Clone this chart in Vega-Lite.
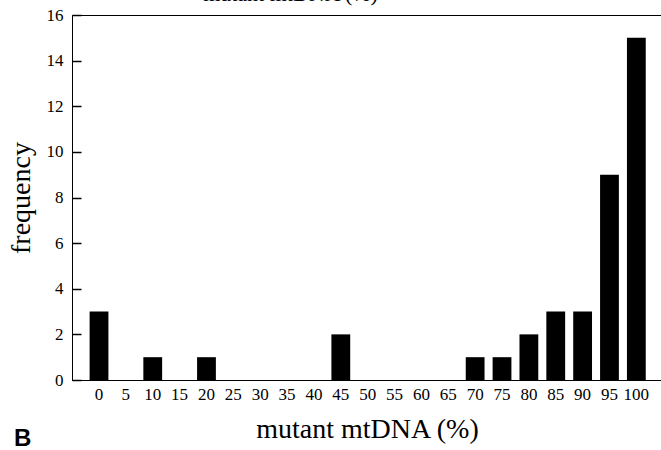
{
  "$schema": "https://vega.github.io/schema/vega-lite/v6.json",
  "autosize": {"type": "none"},
  "width": 590,
  "height": 365,
  "padding": {"left": 72, "top": 15, "right": 0, "bottom": 70},
  "background": "white",
  "title": {
    "text": "B",
    "orient": "bottom",
    "anchor": "start",
    "frame": "group",
    "font": "Liberation Sans",
    "fontWeight": "bold",
    "fontSize": 24,
    "color": "black",
    "dx": -58,
    "dy": -16,
    "offset": 0
  },
  "config": {
    "view": {"stroke": "black", "strokeWidth": 1},
    "axis": {
      "labelFont": "Liberation Serif",
      "titleFont": "Liberation Serif",
      "labelColor": "black",
      "titleColor": "black",
      "domainColor": "black",
      "tickColor": "black",
      "grid": false,
      "titleFontWeight": "normal"
    }
  },
  "data": {
    "values": [
      {"pct": "0", "frequency": 3},
      {"pct": "10", "frequency": 1},
      {"pct": "20", "frequency": 1},
      {"pct": "45", "frequency": 2},
      {"pct": "70", "frequency": 1},
      {"pct": "75", "frequency": 1},
      {"pct": "80", "frequency": 2},
      {"pct": "85", "frequency": 3},
      {"pct": "90", "frequency": 3},
      {"pct": "95", "frequency": 9},
      {"pct": "100", "frequency": 15}
    ]
  },
  "layer": [
    {
      "mark": {"type": "bar", "color": "black"},
      "encoding": {
        "x": {
          "field": "pct",
          "type": "ordinal",
          "scale": {
            "domain": ["0","5","10","15","20","25","30","35","40","45","50","55","60","65","70","75","80","85","90","95","100"],
            "paddingInner": 0.3,
            "paddingOuter": 0.63,
            "align": 0.52
          },
          "axis": {
            "title": "mutant mtDNA (%)",
            "titleFontSize": 28,
            "titlePadding": 13,
            "labelFontSize": 17,
            "labelAngle": 0,
            "ticks": false,
            "labelPadding": 6
          }
        },
        "y": {
          "field": "frequency",
          "type": "quantitative",
          "scale": {"domain": [0, 16], "nice": false},
          "axis": {
            "title": "frequency",
            "titleFontSize": 28,
            "titlePadding": 11,
            "labelFontSize": 17,
            "values": [0,2,4,6,8,10,12,14,16],
            "ticks": true,
            "tickSize": -9,
            "tickWidth": 1.5,
            "tickColor": "black",
            "labelPadding": 18,
            "zindex": 1
          }
        }
      }
    },
    {
      "mark": {"type": "bar", "opacity": 0},
      "encoding": {
        "x": {
          "field": "pct",
          "type": "ordinal",
          "axis": {
            "orient": "top",
            "title": "mutant mtDNA (%)",
            "titleFontSize": 22,
            "titlePadding": 10,
            "titleX": 218,
            "labels": false,
            "ticks": false,
            "domain": false
          }
        },
        "y": {"field": "frequency", "type": "quantitative"}
      }
    }
  ],
  "resolve": {"axis": {"x": "independent"}}
}
